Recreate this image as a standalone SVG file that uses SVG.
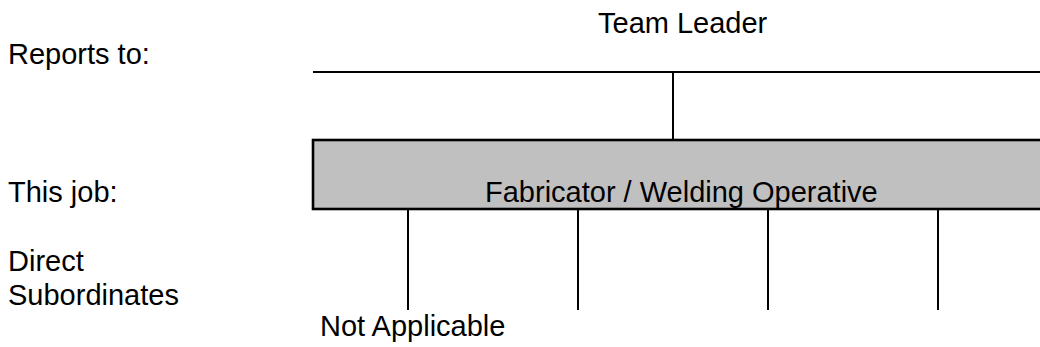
<svg xmlns="http://www.w3.org/2000/svg" width="1040" height="347" viewBox="0 0 1040 347">
<style>
text{font-family:"Liberation Sans",Arial,sans-serif;font-size:29px;fill:#000}
.ln{stroke:#000;stroke-width:2;fill:none}
</style>
<rect width="1040" height="347" fill="#fff"/>
<g id="labels">
<text x="8" y="64">Reports to:</text>
<text x="8" y="202">This job:</text>
<text x="8" y="271">Direct</text>
<text x="8" y="305">Subordinates</text>
</g>
<g id="team-leader">
<text x="598" y="33">Team Leader</text>
</g>
<g id="this-job">
<rect x="313" y="140" width="740" height="69" fill="#c0c0c0" stroke="#000" stroke-width="2.6"/>
<text x="485" y="202">Fabricator / Welding Operative</text>
</g>
<g id="subordinates">
<text x="320" y="336">Not Applicable</text>
</g>
<g id="connectors" class="ln">
<line x1="313" y1="72" x2="1040" y2="72"/>
<line x1="673" y1="72" x2="673" y2="140"/>
<line x1="408" y1="209" x2="408" y2="310"/>
<line x1="578" y1="209" x2="578" y2="310"/>
<line x1="768" y1="209" x2="768" y2="310"/>
<line x1="938" y1="209" x2="938" y2="310"/>
</g>
</svg>
